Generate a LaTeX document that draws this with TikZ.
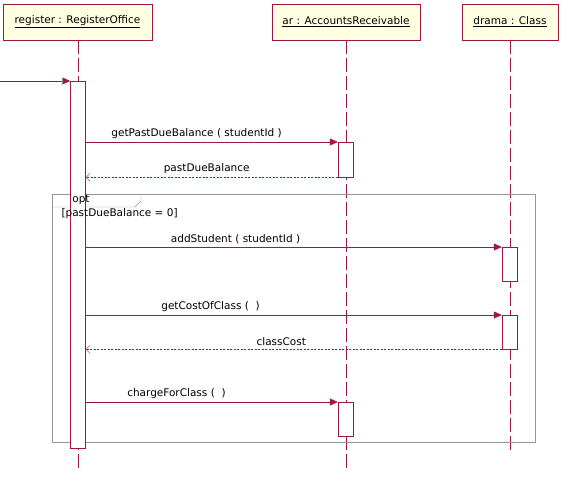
\documentclass[tikz,border=0pt]{standalone}
\usepackage{fontspec}
\setmainfont{DejaVu Sans}
\usetikzlibrary{arrows.meta,positioning}
\definecolor{umlred}{RGB}{158,22,66}
\definecolor{umlfill}{RGB}{255,255,226}
\definecolor{framegray}{RGB}{150,150,150}

\begin{document}
\begin{tikzpicture}[x=1pt,y=-1pt,
    font=\fontsize{10.5}{12}\selectfont,
    head/.style={draw=umlred, fill=umlfill, minimum height=36pt, inner sep=0pt},
    life/.style={umlred, dash pattern=on 14pt off 4pt},
    act/.style={draw=umlred, fill=white, minimum width=15pt, inner sep=0pt, anchor=north},
    msg/.style={umlred, -{Triangle[length=8pt,width=7pt]}},
    ret/.style={umlred, dash pattern=on 2pt off 1.5pt, -{Straight Barb[length=4pt,width=8pt]}},
    lbl/.style={text=black, above}]
  \useasboundingbox (0,0) rectangle (572,482);

  % objects
  \node[head, minimum width=149pt] (reg) at (77.5,22) {\underline{register : RegisterOffice}};
  \node[head, minimum width=148pt] (ar) at (346,22) {\underline{ar : AccountsReceivable}};
  \node[head, minimum width=96pt] (drama) at (510,22) {\underline{drama : Class}};

  % lifelines
  \coordinate (regend) at (78,472);
  \coordinate (arend) at (346,472);
  \coordinate (dramaend) at (510,450);
  \draw[life] (reg.south -| regend) -- (regend);
  \draw[life] (ar.south) -- (arend);
  \draw[life] (drama.south) -- (dramaend);

  % opt fragment
  \draw[framegray] (52,194) rectangle (535,442);
  \draw[framegray] (52,207) -- (135,207) -- (141,201) -- (141,194);

  % activations
  \node[act, minimum height=367pt] (regact) at (78,81) {};
  \node[act, minimum height=35pt] (ar1) at (345.5,142) {};
  \node[act, minimum height=34pt] (drama1) at (509.5,247) {};
  \node[act, minimum height=34pt] (drama2) at (509.5,315) {};
  \node[act, minimum height=34pt] (ar2) at (345.5,402) {};

  \node (opt) at (81,200) {opt};
  \node[anchor=west] (guard) at (58,214) {[pastDueBalance = 0]};

  % messages
  \coordinate (start) at (0,81);
  \draw[msg] (start) -- (regact.north west);
  \draw[msg] (regact.east |- ar1.north) -- node[lbl, pos=0.44]{getPastDueBalance ( studentId )} (ar1.north west);
  \draw[ret] (ar1.south west) -- node[lbl, pos=0.52]{pastDueBalance} (regact.east |- ar1.south);
  \draw[msg] (regact.east |- drama1.north) -- node[lbl, pos=0.36]{addStudent ( studentId )} (drama1.north west);
  \draw[msg] (regact.east |- drama2.north) -- node[lbl, pos=0.30]{getCostOfClass (~ )} (drama2.north west);
  \draw[ret] (drama2.south west) -- node[lbl, pos=0.53]{classCost} (regact.east |- drama2.south);
  \draw[msg] (regact.east |- ar2.north) -- node[lbl, pos=0.36]{chargeForClass (~ )} (ar2.north west);
\end{tikzpicture}
\end{document}
